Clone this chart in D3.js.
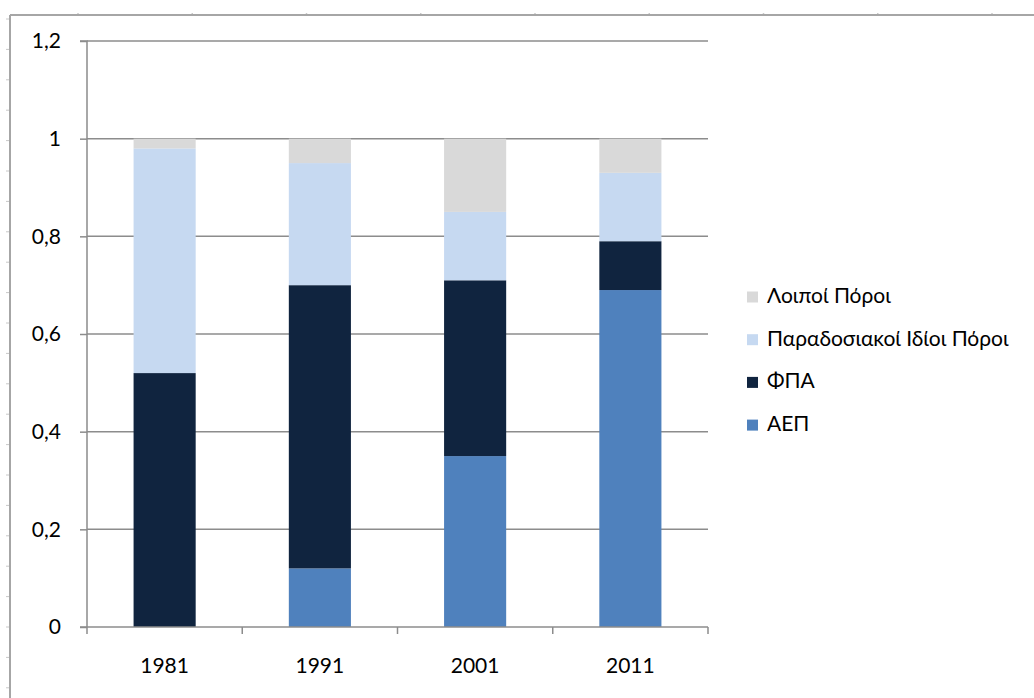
<!DOCTYPE html>
<html><head><meta charset="utf-8">
<script src="https://cdn.jsdelivr.net/npm/d3@7"></script>
<style>body{margin:0;background:#fff}svg{display:block}</style>
</head><body>
<svg id="c" width="1034" height="698"></svg>
<script>
const categories = ["1981","1991","2001","2011"];
const seriesNames = ["ΑΕΠ","ΦΠΑ","Παραδοσιακοί Ιδίοι Πόροι","Λοιποί Πόροι"];
const aep   = [0, 0.12, 0.35, 0.69];
const fpa   = [0.52, 0.58, 0.36, 0.10];
const parad = [0.46, 0.25, 0.14, 0.14];
const loipoi= [0.02, 0.05, 0.15, 0.07];
const yTicks = [0,0.2,0.4,0.6,0.8,1,1.2];
const yTickLabels = ["0","0,2","0,4","0,6","0,8","1","1,2"];
const colors = ["#4f81bd","#10243f","#c6d9f1","#d9d9d9"];

const svg = d3.select("#c");
const font = "Lato, 'Open Sans', sans-serif";
const fs = 21;

// outer frame with ruler marks
svg.append("line").attr("x1",10).attr("x2",1034).attr("y1",15).attr("y2",15).attr("stroke","#a6a6a6").attr("stroke-width",2);
svg.append("line").attr("x1",10).attr("x2",10).attr("y1",15).attr("y2",698).attr("stroke","#a6a6a6").attr("stroke-width",2);
svg.append("g").selectAll("line").data(d3.range(19, 698, 30.4)).join("line")
  .attr("x1",6).attr("x2",9).attr("y1",d=>d).attr("y2",d=>d).attr("stroke","#c8c8c8").attr("stroke-width",1);
svg.append("g").selectAll("line").data(d3.range(78, 1034, 114.25)).join("line")
  .attr("x1",d=>d).attr("x2",d=>d).attr("y1",13).attr("y2",14).attr("stroke","#c8c8c8").attr("stroke-width",1.5);

const plot = {left:87, right:708, top:41, bottom:627};
const x = d3.scaleBand().domain(categories).range([plot.left, plot.right]).paddingInner(0.6).paddingOuter(0.3);
const y = d3.scaleLinear().domain([0,1.2]).range([plot.bottom, plot.top]);

// gridlines
svg.append("g").selectAll("line").data(yTicks.filter(d=>d>0)).join("line")
  .attr("x1",plot.left).attr("x2",plot.right)
  .attr("y1",d=>y(d)).attr("y2",d=>y(d))
  .attr("stroke","#8c8c8c").attr("stroke-width",1.5);

// stacked bars
const rows = categories.map((c,i)=>({cat:c, "ΑΕΠ":aep[i], "ΦΠΑ":fpa[i], "Παραδοσιακοί Ιδίοι Πόροι":parad[i], "Λοιποί Πόροι":loipoi[i]}));
const stacked = d3.stack().keys(seriesNames)(rows);
svg.append("g").selectAll("g").data(stacked).join("g")
  .attr("fill",(d,i)=>colors[i])
  .selectAll("rect").data(d=>d).join("rect")
  .attr("x",d=>x(d.data.cat))
  .attr("width",x.bandwidth())
  .attr("y",d=>y(d[1]))
  .attr("height",d=>y(d[0])-y(d[1]));

// y axis
const yAxis = d3.axisLeft(y).tickValues(yTicks).tickFormat((d,i)=>yTickLabels[i]).tickSize(7).tickPadding(19);
const ga = svg.append("g").attr("transform",`translate(${plot.left},0)`).call(yAxis);
ga.select(".domain").attr("stroke","#8c8c8c").attr("stroke-width",1.5).attr("d",`M-7,${plot.top}H0V${plot.bottom}`);
ga.selectAll(".tick line").attr("stroke","#8c8c8c").attr("stroke-width",1.5);
ga.selectAll("text").attr("font-family",font).attr("font-size",fs).attr("fill","#000");

// x axis
const bounds = d3.range(categories.length+1).map(i=>plot.left + i*(plot.right-plot.left)/categories.length);
const gx = svg.append("g");
gx.append("line").attr("x1",plot.left-7).attr("x2",plot.right).attr("y1",plot.bottom).attr("y2",plot.bottom).attr("stroke","#8c8c8c").attr("stroke-width",1.5);
gx.selectAll("line.t").data(bounds).join("line").attr("class","t")
  .attr("x1",d=>d).attr("x2",d=>d).attr("y1",plot.bottom).attr("y2",plot.bottom+7)
  .attr("stroke","#8c8c8c").attr("stroke-width",1.5);
gx.selectAll("text").data(categories).join("text")
  .attr("x",d=>x(d)+x.bandwidth()/2).attr("y",673)
  .attr("text-anchor","middle").attr("font-family",font).attr("font-size",fs).text(d=>d);

// legend
const legendOrder = [3,2,1,0];
const lg = svg.append("g");
legendOrder.forEach((si,k)=>{
  const cy = 297 + k*42.7;
  lg.append("rect").attr("x",747).attr("y",cy-5.5).attr("width",11).attr("height",11).attr("fill",colors[si]);
  lg.append("text").attr("x",767).attr("y",cy+6).attr("font-family",font).attr("font-size",fs).text(seriesNames[si]);
});
</script>
</body></html>
